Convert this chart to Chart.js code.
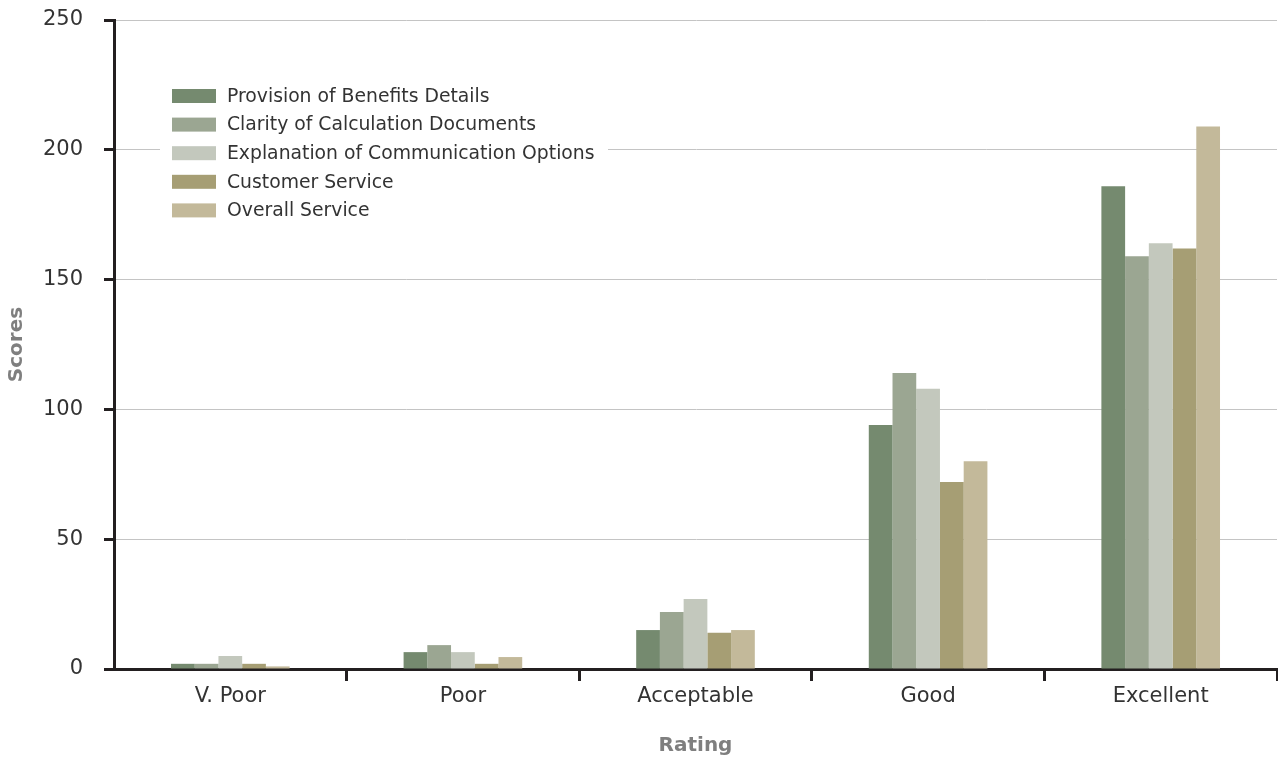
<!DOCTYPE html>
<html>
<head>
<meta charset="utf-8">
<script src="https://cdn.jsdelivr.net/npm/chart.js@4/dist/chart.umd.min.js"></script>
<style>
  html, body { margin: 0; padding: 0; background: #ffffff; }
  #wrap { width: 1278px; height: 760px; position: relative; }
</style>
</head>
<body>
<div id="wrap"><canvas id="c" width="1278" height="760"></canvas></div>
<script>
const categories = ['V. Poor', 'Poor', 'Acceptable', 'Good', 'Excellent'];
const seriesNames = [
  'Provision of Benefits Details',
  'Clarity of Calculation Documents',
  'Explanation of Communication Options',
  'Customer Service',
  'Overall Service'
];
const provision   = [2, 6.5, 15, 94, 186];
const clarity     = [2, 9.2, 22, 114, 159];
const explanation = [5, 6.5, 27, 108, 164];
const customer    = [2, 2, 14, 72, 162];
const overall     = [1, 4.6, 15, 80, 209];
const yTicks = [0, 50, 100, 150, 200, 250];

const colors = ['#758a6f', '#9ba692', '#c3c8bd', '#a69e74', '#c3b99a'];
const seriesValues = [provision, clarity, explanation, customer, overall];

const FONT = '"DejaVu Sans", "Liberation Sans", Arial, sans-serif';

const insideLegend = {
  id: 'insideLegend',
  afterDraw(chart) {
    const ctx = chart.ctx;
    ctx.save();
    ctx.fillStyle = '#ffffff';
    ctx.fillRect(160, 80, 448, 145);
    const x0 = 172, y0 = 96, step = 28.6;
    ctx.font = '18.8px ' + FONT;
    ctx.textBaseline = 'middle';
    ctx.textAlign = 'left';
    chart.data.datasets.forEach((ds, i) => {
      const y = y0 + i * step;
      ctx.fillStyle = ds.backgroundColor;
      ctx.fillRect(x0, y - 7, 44, 14);
      ctx.fillStyle = '#333333';
      ctx.fillText(ds.label, 227, y + 1);
    });
    ctx.restore();
  }
};

new Chart(document.getElementById('c'), {
  type: 'bar',
  data: {
    labels: categories,
    datasets: seriesNames.map((n, i) => ({
      label: n,
      data: seriesValues[i],
      backgroundColor: colors[i],
      borderWidth: 0,
      barPercentage: 1.0,
      categoryPercentage: 0.51
    }))
  },
  options: {
    responsive: false,
    animation: false,
    devicePixelRatio: 1,
    layout: { autoPadding: false, padding: { top: 20, right: 1, left: 0, bottom: 0 } },
    plugins: {
      legend: { display: false },
      tooltip: { enabled: false }
    },
    scales: {
      x: {
        offset: true,
        afterFit(axis) { axis.height = 91; axis.paddingLeft = 0; axis.paddingRight = 0; },
        grid: {
          display: true,
          offset: true,
          drawOnChartArea: false,
          drawTicks: true,
          tickLength: 12,
          tickColor: (c) => (c.index === 0 ? 'rgba(0,0,0,0)' : '#231f20'),
          lineWidth: 3
        },
        border: { display: true, color: '#231f20', width: 3 },
        ticks: {
          color: '#333333',
          font: { family: FONT, size: 21 },
          padding: 3
        },
        title: {
          display: true,
          text: 'Rating',
          color: '#7f7f7f',
          font: { family: FONT, size: 20, weight: 'bold' },
          padding: { top: 0, bottom: 2 }
        }
      },
      y: {
        min: 0,
        max: 250,
        afterBuildTicks(axis) { axis.ticks = yTicks.map(v => ({ value: v })); },
        afterFit(axis) { axis.width = 114; axis.paddingTop = 0; axis.paddingBottom = 0; },
        grid: {
          color: '#c4c4c4',
          lineWidth: 1,
          tickColor: '#231f20',
          tickLength: 10,
          tickWidth: 3
        },
        border: { display: true, color: '#231f20', width: 3 },
        ticks: {
          color: '#333333',
          font: { family: FONT, size: 21 },
          padding: 21
        },
        title: {
          display: true,
          text: 'Scores',
          color: '#7f7f7f',
          font: { family: FONT, size: 20, weight: 'bold' },
          padding: { top: 5, bottom: 0 }
        }
      }
    }
  },
  plugins: [insideLegend]
});
</script>
</body>
</html>
